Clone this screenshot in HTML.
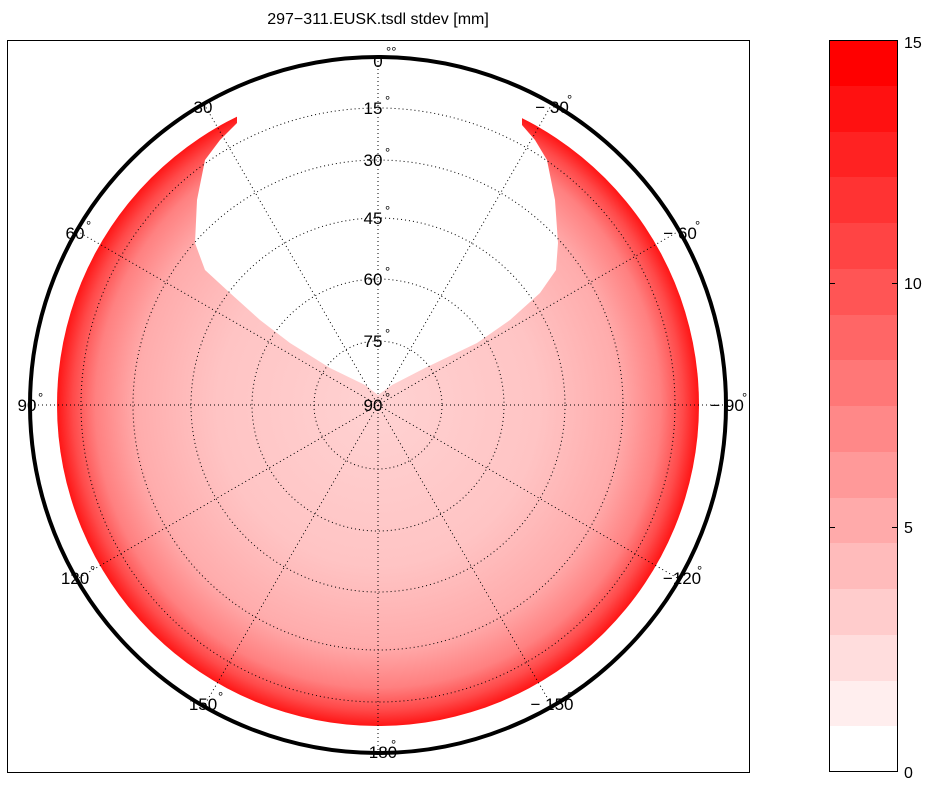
<!DOCTYPE html>
<html><head><meta charset="utf-8"><style>
html,body{margin:0;padding:0;background:#fff;}
svg{display:block;font-family:"Liberation Sans",sans-serif;}
</style></head><body>
<svg width="932" height="786" viewBox="0 0 932 786" xmlns="http://www.w3.org/2000/svg">
<defs>
<radialGradient id="g" cx="378" cy="405" r="321" gradientUnits="userSpaceOnUse">
<stop offset="0" stop-color="#ffd2d2"/>
<stop offset="0.5" stop-color="#ffc4c4"/>
<stop offset="0.75" stop-color="#ffacac"/>
<stop offset="0.88" stop-color="#ff8080"/>
<stop offset="0.95" stop-color="#ff4a4a"/>
<stop offset="1" stop-color="#ff1515"/>
</radialGradient>
</defs>
<text x="378" y="24" font-size="16" text-anchor="middle">297−311.EUSK.tsdl  stdev [mm]</text>
<circle cx="378" cy="405" r="321" fill="url(#g)"/>
<path d="M237,123 L220,140 L205,160 L197,200 L195,243 L205,270 L230,293 L260,320 L290,343 L330,368 L365,385 L378,395 L392,385 L425,368 L477,343 L510,320 L540,293 L556,270 L558,243 L555,200 L547,160 L535,140 L522,125 L522,45 L237,45 Z" fill="#fff"/>
<rect x="7.5" y="40.5" width="742" height="732" fill="none" stroke="#000" stroke-width="1"/>
<g fill="none" stroke="#000" stroke-width="1" stroke-dasharray="1,3">
<circle cx="378" cy="405" r="297"/>
<circle cx="378" cy="405" r="245"/>
<circle cx="378" cy="405" r="187"/>
<circle cx="378" cy="405" r="126"/>
<circle cx="378" cy="405" r="64"/>
<line x1="378" y1="57" x2="378" y2="753"/>
<line x1="30" y1="405" x2="726" y2="405"/>
<line x1="204" y1="104" x2="552" y2="706"/>
<line x1="552" y1="104" x2="204" y2="706"/>
<line x1="77" y1="231" x2="679" y2="579"/>
<line x1="679" y1="231" x2="77" y2="579"/>
</g>
<circle cx="378" cy="405" r="348" fill="none" stroke="#000" stroke-width="4"/>
<g font-size="17" text-anchor="middle">
<text x="378" y="67">0</text>
<text x="203" y="113">30</text>
<text x="75" y="239">60</text>
<text x="27" y="411">90</text>
<text x="75" y="584">120</text>
<text x="203" y="710">150</text>
<text x="378" y="758">−180</text>
<text x="552" y="710">− 150</text>
<text x="682" y="584">−120</text>
<text x="727" y="411">− 90</text>
<text x="680" y="239">− 60</text>
<text x="552" y="113">− 30</text>
<text x="373" y="114">15</text>
<text x="373" y="166">30</text>
<text x="373" y="224">45</text>
<text x="373" y="285">60</text>
<text x="373" y="347">75</text>
<text x="373" y="411">90</text>
</g>
<g font-size="13">
<text x="386" y="56">°°</text><text x="214" y="104">°</text><text x="86" y="230">°</text><text x="38" y="402">°</text>
<text x="90" y="575">°</text><text x="218" y="701">°</text><text x="391" y="749">°</text><text x="567" y="701">°</text>
<text x="697" y="575">°</text><text x="742" y="402">°</text><text x="695" y="230">°</text><text x="567" y="104">°</text>
<text x="385" y="105">°</text><text x="385" y="157">°</text><text x="385" y="215">°</text><text x="385" y="276">°</text><text x="385" y="338">°</text><text x="385" y="402">°</text>
</g>
<g>
<rect x="829" y="40" width="69" height="46" fill="#ff0000"/>
<rect x="829" y="86" width="69" height="46" fill="#ff1111"/>
<rect x="829" y="132" width="69" height="46" fill="#ff2222"/>
<rect x="829" y="177" width="69" height="46" fill="#ff3333"/>
<rect x="829" y="223" width="69" height="46" fill="#ff4444"/>
<rect x="829" y="269" width="69" height="46" fill="#ff5555"/>
<rect x="829" y="315" width="69" height="46" fill="#ff6666"/>
<rect x="829" y="360" width="69" height="46" fill="#ff7777"/>
<rect x="829" y="406" width="69" height="46" fill="#ff8888"/>
<rect x="829" y="452" width="69" height="46" fill="#ff9999"/>
<rect x="829" y="498" width="69" height="46" fill="#ffaaaa"/>
<rect x="829" y="543" width="69" height="46" fill="#ffbbbb"/>
<rect x="829" y="589" width="69" height="46" fill="#ffcccc"/>
<rect x="829" y="635" width="69" height="46" fill="#ffdddd"/>
<rect x="829" y="681" width="69" height="46" fill="#ffeeee"/>
<rect x="829" y="726" width="69" height="46" fill="#ffffff"/>
<rect x="829.5" y="40.5" width="68" height="731" fill="none" stroke="#000"/>
<g stroke="#000"><line x1="829" y1="283.5" x2="835" y2="283.5"/><line x1="892" y1="283.5" x2="898" y2="283.5"/><line x1="829" y1="527.5" x2="835" y2="527.5"/><line x1="892" y1="527.5" x2="898" y2="527.5"/></g>
<g font-size="16"><text x="904" y="48">15</text><text x="904" y="289">10</text><text x="904" y="533">5</text><text x="904" y="778">0</text></g>
</g>
</svg>
</body></html>
